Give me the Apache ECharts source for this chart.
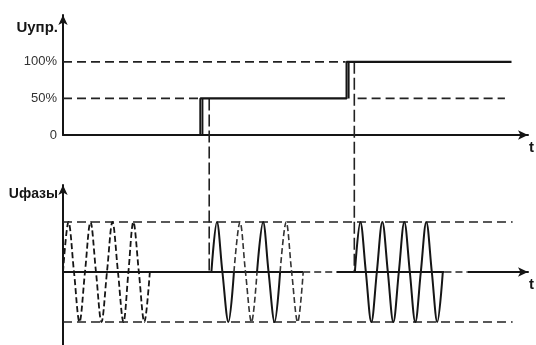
<!DOCTYPE html>
<html><head><meta charset="utf-8">
<script src="https://cdn.jsdelivr.net/npm/echarts@6/dist/echarts.min.js"></script>
<style>html,body{margin:0;padding:0;background:#fff}#c{width:536px;height:345px}</style>
</head><body><div id="c"></div>
<script>
// time in ms (mains period ~20 ms)
const tMax = 423;
// control signal (top panel), % of full power
const controlSteps = [[0,0],[125,0],[125,50],[258,50],[258,100],[408,100]];
const stepEdges = [[127,0],[127,50],null,[260,50],[260,100]];
const levelTicks = {0:'0', 50:'50%', 100:'100%'};
const dash100 = [[0,100],[257,100]];
const dash50 = [[0,50],[125,50],null,[268,50],[402,50]];
// switching instants (vertical dashed guides) and their control levels
const guideTimes = [133, 265];
const guideLevels = [50, 100];
// phase voltage (bottom panel), normalized amplitude
const wave0pct = [[0,0],[5,1],[10,0],[15,-1],[20,0],[25,1],[30,0],[35,-1],[40,0],[45,1],[50,0],[55,-1],[59.5,0],[64,1],[69,0],[74,-1],[79,0]];
const wave50on = [[135,0],[140,1],[145,0],[150.5,-1],[155.5,0],null,[176.5,0],[182,1],[187,0],[192.5,-1],[197.5,0]];
const wave50off = [[155.5,0],[161,1],[166,0],[171.5,-1],[176.5,0],null,[197.5,0],[203,1],[208,0],[213.5,-1],[218.5,0]];
const wave100 = [[265.5,0],[270.5,1],[275.5,0],[280.5,-1],[285.5,0],[290.5,1],[295.5,0],[300.5,-1],[305.5,0],[310.5,1],[315.5,0],[320.5,-1],[325.5,0],[330.5,1],[335.5,0],[340.5,-1],[345.5,0]];
const ampPlus = [[0,1],[409,1]];
const ampMinus = [[0,-1],[409,-1]];
const idleGaps = [[218.5,0],[249,0],null,[347,0],[368,0]];

const INK = '#151515';
const FONT = "'Liberation Sans', Arial, sans-serif";
const axisLine = {show:true, symbol:['none','arrow'], symbolSize:[7,10], lineStyle:{color:INK, width:2}};
const nameStyleY = {fontFamily:FONT, fontWeight:'bold', fontSize:15, color:INK, align:'right', verticalAlign:'middle', padding:[0,5,0,0]};
const nameStyleY2 = Object.assign({}, nameStyleY, {fontSize:14});
const nameStyleX = {fontFamily:FONT, fontWeight:'bold', fontSize:15, color:INK, align:'left', verticalAlign:'top', padding:[5,0,0,0]};

function xAx(grid){
  return {type:'value', gridIndex:grid, min:0, max:tMax, axisLine:axisLine, axisTick:{show:false},
    axisLabel:{show:false}, splitLine:{show:false}, name:'t', nameLocation:'end', nameGap:1, nameTextStyle:nameStyleX};
}
function dashed(grid, data, pat){
  return {type:'line', xAxisIndex:grid, yAxisIndex:grid, data:data, symbol:'none', silent:true,
    lineStyle:{color:'#222', width:1.6, type:pat||[9,5]}, z:3};
}

const option = {
  animation:false,
  grid:[{left:63, right:8, top:15, height:120}, {left:63, right:8, top:185, height:160}],
  xAxis:[xAx(0), xAx(1)],
  yAxis:[
    {type:'value', gridIndex:0, min:0, max:164, interval:50, axisLine:axisLine, axisTick:{show:false}, splitLine:{show:false},
     axisLabel:{margin:6, fontFamily:FONT, fontSize:13, color:'#333', showMaxLabel:false, formatter:v => levelTicks[v] || ''},
     name:'Uупр.', nameLocation:'end', nameGap:-13, nameTextStyle:nameStyleY},
    {type:'value', gridIndex:1, min:-1.46, max:1.74, axisLine:axisLine, axisTick:{show:false}, splitLine:{show:false},
     axisLabel:{show:false},
     name:'Uфазы', nameLocation:'end', nameGap:-9, nameTextStyle:nameStyleY2}
  ],
  series:[
    dashed(0, dash100), dashed(0, dash50),
    {type:'line', xAxisIndex:0, yAxisIndex:0, data:controlSteps, symbol:'none', silent:true, lineStyle:{color:INK, width:2.2}, z:4},
    {type:'line', xAxisIndex:0, yAxisIndex:0, data:stepEdges, symbol:'none', silent:true, lineStyle:{color:INK, width:1.6}, z:4},
    dashed(1, ampPlus), dashed(1, ampMinus),
    {type:'line', xAxisIndex:1, yAxisIndex:1, data:idleGaps, symbol:'none', silent:true, lineStyle:{color:'#fff', width:3}, z:2},
    dashed(1, idleGaps, [7,4]),
    {type:'line', xAxisIndex:1, yAxisIndex:1, data:wave0pct, symbol:'none', smooth:0.35, silent:true, lineStyle:{color:INK, width:1.8, type:[6,3]}, z:4},
    {type:'line', xAxisIndex:1, yAxisIndex:1, data:wave50on, symbol:'none', smooth:0.35, silent:true, lineStyle:{color:INK, width:2}, z:4},
    {type:'line', xAxisIndex:1, yAxisIndex:1, data:wave50off, symbol:'none', smooth:0.35, silent:true, lineStyle:{color:'#333', width:1.6, type:[6,3]}, z:4},
    {type:'line', xAxisIndex:1, yAxisIndex:1, data:wave100, symbol:'none', smooth:0.35, silent:true, lineStyle:{color:INK, width:2}, z:4}
  ]
};
const chart = echarts.init(document.getElementById('c'), null, {renderer:'canvas'});
chart.setOption(option);
// vertical guides: from the control level in the top panel down to zero in the bottom panel
const guides = guideTimes.map((t, i) => {
  const px = chart.convertToPixel({gridIndex:0}, [t, guideLevels[i]]);
  const v = chart.convertFromPixel({gridIndex:1}, px)[1];
  return {type:'line', xAxisIndex:1, yAxisIndex:1, data:[[t, v],[t, 0]], symbol:'none', silent:true, clip:false,
    lineStyle:{color:'#222', width:1.6, type:[12,4]}, z:3};
});
chart.setOption({series: option.series.concat(guides)});
</script></body></html>
